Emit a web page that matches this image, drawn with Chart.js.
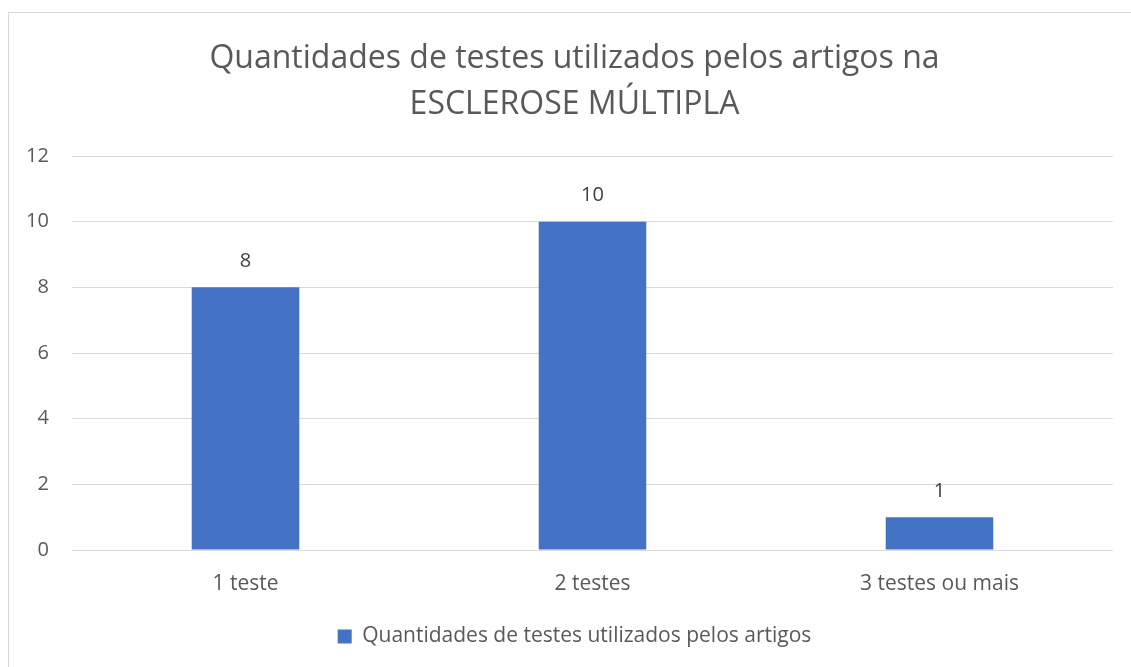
<!DOCTYPE html>
<html>
<head>
<meta charset="utf-8">
<script src="https://cdn.jsdelivr.net/npm/chart.js@4/dist/chart.umd.min.js"></script>
<style>
  body { margin: 0; background: #fff; }
  #frame { position: absolute; left: 8px; top: 12px; width: 1200px; height: 700px;
           border-top: 1px solid #d9d9d9; border-left: 1px solid #d9d9d9; }
  #wrap { position: absolute; left: 0; top: 0; width: 1131px; height: 667px; }
</style>
</head>
<body>
<div id="frame"></div>
<div id="wrap"><canvas id="grafico"></canvas></div>
<script>
const categorias = ['1 teste', '2 testes', '3 testes ou mais'];
const quantidades = [8, 10, 1];
const ticksY = [0, 2, 4, 6, 8, 10, 12];

const fonte = "'Open Sans', 'Noto Sans', sans-serif";
const corTexto = '#595959';

// rótulos de valor em cima das barras
const rotulos = {
  id: 'rotulos',
  afterDatasetsDraw(chart) {
    const ctx = chart.ctx;
    const meta = chart.getDatasetMeta(0);
    ctx.save();
    ctx.font = '20px ' + fonte;
    ctx.fillStyle = '#404040';
    ctx.textAlign = 'center';
    ctx.textBaseline = 'middle';
    meta.data.forEach(function(barra, i) {
      ctx.fillText(String(quantidades[i]), barra.x, barra.y - 26);
    });
    ctx.restore();
  }
};

const dados = {
  labels: categorias,
  datasets: [
    {
      label: 'Quantidades de testes utilizados pelos artigos',
      backgroundColor: '#4472C4',
      borderColor: '#4472C4',
      data: quantidades,
      categoryPercentage: 1,
      barPercentage: 0.31,
    },
  ],
};

new Chart(document.getElementById('grafico'), {
  type: 'bar',
  data: dados,
  plugins: [rotulos],
  options: {
    responsive: true,
    maintainAspectRatio: false,
    animation: false,
    layout: { padding: { top: 36, left: 36, right: 18, bottom: 10 } },
    plugins: {
      tooltip: { enabled: false },
      title: {
        display: true,
        text: ['Quantidades de testes utilizados pelos artigos na', 'ESCLEROSE MÚLTIPLA'],
        color: corTexto,
        font: { family: fonte, size: 32, weight: 'normal', lineHeight: '46px' },
        padding: { top: 0, bottom: 28 },
      },
      legend: {
        position: 'bottom',
        labels: {
          color: corTexto,
          font: { family: fonte, size: 21 },
          boxWidth: 14,
          boxHeight: 14,
          padding: 10,
        },
      },
    },
    scales: {
      x: {
        grid: { display: false, drawTicks: false },
        border: { display: false },
        ticks: { color: corTexto, font: { family: fonte, size: 21 }, padding: 21 },
        afterFit(escala) { escala.height = 66; },
      },
      y: {
        min: 0,
        max: 12,
        afterBuildTicks(escala) {
          escala.ticks = ticksY.map(function(v) { return { value: v }; });
        },
        grid: { color: '#d9d9d9', lineWidth: 1, drawTicks: false },
        border: { display: false },
        // mirror + crossAlign 'far' para os rótulos ficarem à esquerda sem corte
        ticks: { color: corTexto, font: { family: fonte, size: 20 }, mirror: true, crossAlign: 'far', padding: -46 },
        afterFit(escala) { escala.width = 36; },
      },
    },
  },
});
</script>
</body>
</html>
